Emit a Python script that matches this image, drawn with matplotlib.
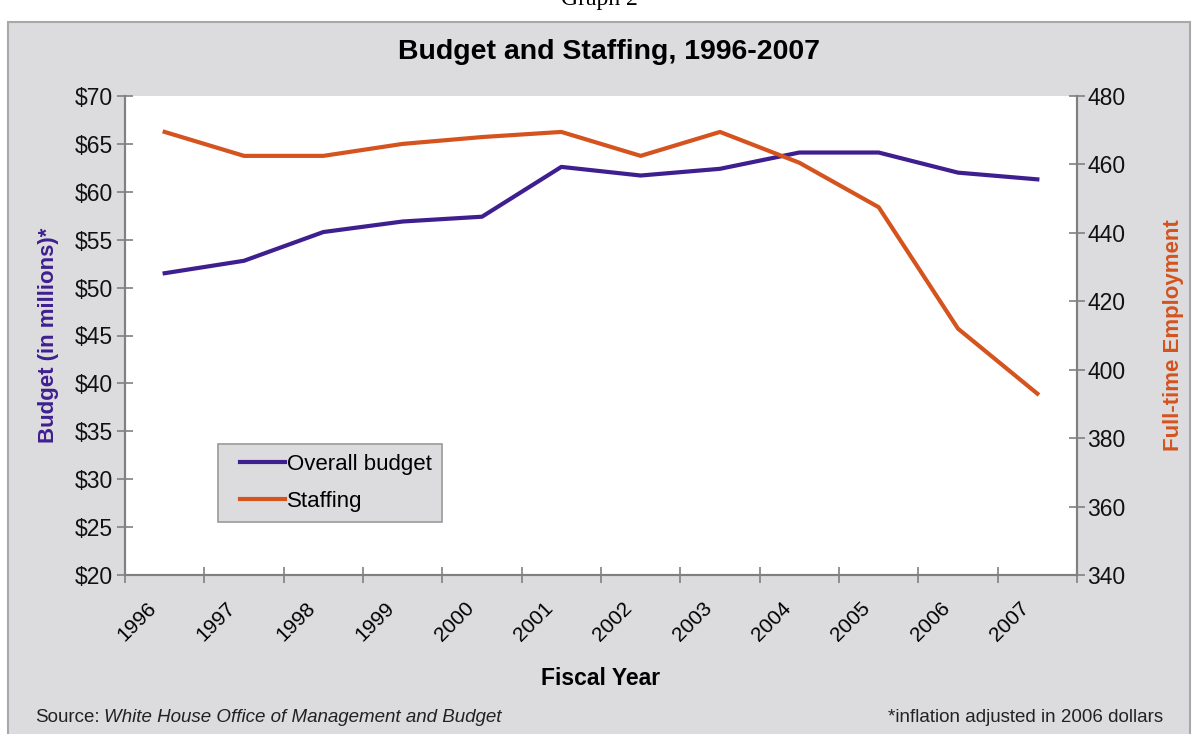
import matplotlib.pyplot as plt
import matplotlib.transforms as mtransforms
from matplotlib.patches import Rectangle
from matplotlib.legend_handler import HandlerLine2D

years = ['1996', '1997', '1998', '1999', '2000', '2001',
         '2002', '2003', '2004', '2005', '2006', '2007']
budget = [51.5, 52.8, 55.8, 56.9, 57.4, 62.6, 61.7, 62.4, 64.1, 64.1, 62.0, 61.3]
staffing = [469.5, 462.5, 462.5, 466, 468, 469.5, 462.5, 469.5, 460.5, 447.5, 412, 393]

purple = '#3f1f8f'
orange = '#d4531e'
panel = '#dcdcde'
font = 'Liberation Sans'

plt.rcParams['font.family'] = font

fig = plt.figure(figsize=(11.98, 7.34), dpi=100)
fig.patch.set_facecolor('white')

# gray panel behind the chart
fig.patches.append(Rectangle((8 / 1198, -0.01), 1182 / 1198, (734 - 22) / 734 + 0.01,
                             transform=fig.transFigure, facecolor=panel,
                             edgecolor='#a8a8aa', linewidth=1.5, zorder=-10))
fig.text(0.5, 1.0, 'Graph 2', family='Liberation Serif', fontsize=17,
         ha='center', va='center')

ax1 = fig.add_axes([125 / 1198, 1 - 575 / 734, 952 / 1198, 479 / 734])
ax1.set_facecolor('white')
x = list(range(len(years)))

l1, = ax1.plot(x, budget, color=purple, lw=3, label='Overall budget')
ax1.set_xlim(-0.5, 11.5)
ax1.set_ylim(20, 70)
ax1.set_yticks(range(20, 71, 5))
ax1.set_yticklabels(['$%d' % v for v in range(20, 71, 5)])

ax2 = ax1.twinx()
l2, = ax2.plot(x, staffing, color=orange, lw=3, label='Staffing')
ax2.set_ylim(340, 480)
ax2.set_yticks(range(340, 481, 20))

# category boundaries get the ticks, labels sit under the centres
ax1.set_xticks([i - 0.5 for i in range(len(years) + 1)])
ax1.set_xticklabels([])
ax1.set_xticks(x, minor=True)
ax1.set_xticklabels(years, minor=True, rotation=45, ha='right', va='top',
                    rotation_mode='anchor', fontsize=15)
ax1.tick_params(axis='x', which='minor', length=0, pad=17)
shift = mtransforms.ScaledTranslation(-18 / 100, 0, fig.dpi_scale_trans)
for lab in ax1.get_xticklabels(minor=True):
    lab.set_transform(lab.get_transform() + shift)

for a in (ax1, ax2):
    for s in a.spines.values():
        s.set_color('#808080')
        s.set_linewidth(1.5)
    a.spines['top'].set_visible(False)
    a.tick_params(which='major', direction='inout', length=12, width=1.2,
                  color='#808080', labelsize=16.5, labelcolor='#111111')
ax1.tick_params(axis='y', pad=3)
ax2.tick_params(axis='y', pad=1.5)

ax1.set_ylabel('Budget (in millions)*', color=purple, fontsize=16,
               fontweight='bold', labelpad=11)
ax2.set_ylabel('Full-time Employment', color=orange, fontsize=16,
               fontweight='bold', labelpad=27)
ax1.set_xlabel('Fiscal Year', fontsize=16.5, fontweight='bold', labelpad=16)

fig.text(609 / 1198, 1 - 59 / 734, 'Budget and Staffing, 1996-2007',
         fontsize=20.5, fontweight='bold', ha='center', va='baseline')

leg = ax1.legend(handles=[l1, l2], loc='lower left',
                 bbox_to_anchor=(0.0977, 0.1106), borderaxespad=0,
                 fontsize=16, fancybox=False, framealpha=1, facecolor=panel,
                 edgecolor='#9a9a9a', handlelength=2.57, handletextpad=0.1,
                 borderpad=0.45, labelspacing=0.72,
                 handler_map={l1: HandlerLine2D(xpad=0.54),
                              l2: HandlerLine2D(xpad=0.54)})
leg.get_frame().set_linewidth(1.2)
leg.set_zorder(5)

fig.text(35 / 1198, 1 - 717 / 734, 'Source:', fontsize=13.5, va='center',
         color='#222222')
fig.text(104 / 1198, 1 - 717 / 734, 'White House Office of Management and Budget',
         fontsize=13.5, style='italic', va='center', color='#222222')
fig.text(1163 / 1198, 1 - 717 / 734, '*inflation adjusted in 2006 dollars',
         fontsize=13.5, ha='right', va='center', color='#222222')

fig.savefig('out.png', dpi=100)
